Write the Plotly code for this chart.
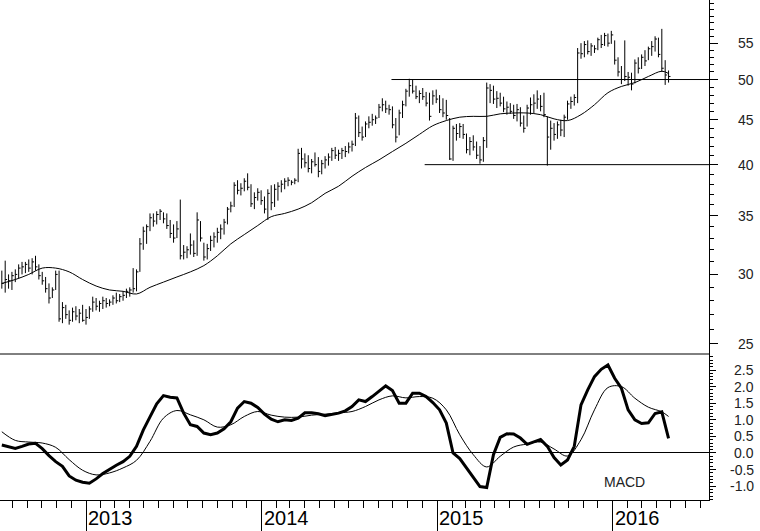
import math
import pandas as pd
import plotly.graph_objects as go

# ---------------- data ----------------
start_date = "2012-07-10"          # first weekly bar

high = [30.3, 31.1, 30.0, 30.2, 30.4, 30.8, 31.0, 31.0, 31.2, 31.3,
        31.5, 30.8, 30.2, 29.8, 29.3, 29.0, 30.3, 30.3, 27.9, 27.7,
        27.3, 27.5, 27.6, 27.4, 27.7, 27.4, 27.6, 28.3, 28.2, 28.0,
        28.3, 28.2, 28.1, 28.4, 28.6, 28.5, 28.7, 28.9, 29.0, 30.5,
        30.4, 33.0, 34.0, 34.2, 35.2, 35.2, 35.4, 35.6, 35.3, 35.2,
        34.6, 34.2, 34.5, 36.5, 32.4, 32.3, 33.4, 32.8, 35.3, 34.5,
        32.6, 32.5, 33.2, 33.5, 33.9, 34.2, 34.7, 35.8, 36.3, 38.2,
        38.4, 38.1, 38.6, 39.1, 38.0, 37.2, 37.6, 37.4, 36.8, 37.5,
        37.9, 38.0, 38.2, 38.4, 38.6, 38.7, 38.4, 38.6, 41.7, 41.8,
        41.2, 41.0, 40.6, 41.3, 40.8, 40.5, 40.9, 41.2, 41.8, 41.9,
        41.6, 41.8, 42.0, 42.4, 42.6, 45.8, 45.5, 44.2, 44.8, 45.4,
        45.7, 45.5, 46.9, 47.6, 47.3, 46.8, 46.6, 45.2, 46.2, 47.3,
        48.8, 50.1, 50.0, 49.2, 48.6, 48.9, 48.4, 48.3, 48.6, 48.7,
        48.0, 47.6, 47.4, 45.2, 44.3, 44.5, 44.6, 44.5, 43.4, 43.0,
        43.2, 42.5, 42.0, 43.0, 49.6, 49.4, 49.2, 48.5, 48.3, 47.8,
        47.2, 47.0, 46.8, 46.9, 46.5, 45.5, 46.8, 47.7, 48.1, 48.6,
        48.0, 48.3, 45.4, 44.9, 44.6, 44.8, 45.0, 45.6, 47.3, 47.8,
        48.1, 54.3, 55.0, 55.3, 55.4, 55.0, 54.7, 55.8, 56.2, 56.5,
        56.4, 56.8, 55.4, 53.0, 51.8, 55.4, 51.0, 50.9, 52.7, 53.0,
        53.4, 54.0, 54.5, 55.3, 56.0, 55.8, 57.1, 52.6, 51.2]

low = [28.9, 28.6, 28.9, 28.8, 29.4, 29.7, 30.0, 30.1, 30.2, 30.0,
       30.3, 29.6, 29.2, 28.6, 27.8, 28.2, 28.8, 26.5, 26.4, 26.7,
       26.3, 26.5, 26.6, 26.4, 26.5, 26.3, 26.7, 27.2, 27.3, 27.2,
       27.4, 27.5, 27.6, 27.7, 27.8, 27.9, 28.0, 28.2, 28.3, 28.6,
       28.7, 30.2, 32.0, 32.5, 33.6, 34.0, 34.2, 34.6, 34.3, 33.8,
       33.0, 32.6, 33.0, 31.2, 31.2, 31.3, 31.6, 31.4, 31.5, 32.7,
       31.1, 31.2, 31.9, 32.2, 32.6, 32.9, 33.3, 34.2, 35.3, 35.8,
       37.0, 36.9, 37.3, 37.4, 35.8, 35.6, 36.4, 36.0, 35.2, 34.6,
       35.5, 35.8, 36.4, 37.2, 37.5, 37.8, 37.9, 38.0, 38.2, 39.6,
       39.7, 39.2, 39.1, 39.8, 38.7, 39.0, 39.6, 39.9, 40.4, 40.6,
       40.4, 40.6, 40.8, 41.2, 41.4, 42.0, 43.0, 42.6, 43.0, 44.0,
       44.3, 44.5, 45.2, 46.0, 45.8, 45.6, 44.0, 42.4, 43.2, 45.2,
       46.6, 47.8, 48.2, 47.5, 47.0, 47.4, 46.6, 44.9, 46.8, 47.0,
       45.8, 45.3, 45.0, 40.5, 40.4, 42.6, 42.9, 42.8, 41.2, 41.0,
       41.5, 40.6, 40.1, 40.3, 41.8, 47.0, 46.9, 46.4, 46.6, 45.9,
       45.6, 45.7, 45.1, 44.8, 44.2, 43.5, 44.2, 45.6, 45.8, 46.3,
       46.0, 45.3, 39.9, 41.6, 42.6, 42.8, 43.1, 43.0, 45.0, 46.3,
       46.7, 47.0, 52.8, 53.0, 53.4, 53.2, 53.6, 54.0, 54.3, 54.6,
       54.5, 54.9, 52.0, 50.4, 49.4, 49.8, 49.2, 48.6, 49.5, 50.8,
       51.4, 51.8, 52.6, 53.2, 53.8, 53.0, 51.0, 49.3, 49.6]

close = [29.3, 29.6, 29.5, 29.9, 30.0, 30.5, 30.6, 30.8, 30.5, 31.0,
         30.6, 29.9, 29.5, 28.9, 28.2, 28.8, 30.0, 26.7, 27.5, 27.0,
         26.6, 27.2, 26.9, 27.1, 26.6, 26.8, 27.4, 27.9, 27.6, 27.8,
         28.0, 27.8, 27.9, 28.2, 28.0, 28.3, 28.4, 28.7, 28.8, 28.9,
         30.2, 32.5, 33.6, 34.0, 34.8, 34.5, 35.1, 35.4, 34.7, 34.1,
         33.4, 33.0, 33.8, 31.5, 31.8, 32.0, 32.4, 31.7, 34.6, 33.0,
         31.4, 32.1, 32.8, 33.1, 33.5, 33.8, 34.4, 35.6, 35.9, 37.9,
         37.4, 37.6, 38.3, 37.7, 36.1, 36.7, 37.2, 36.4, 35.6, 37.1,
         36.2, 37.5, 37.8, 38.0, 38.3, 38.4, 38.2, 38.4, 41.2, 40.6,
         40.2, 39.6, 40.3, 40.0, 39.3, 40.1, 40.5, 40.8, 41.5, 41.0,
         41.2, 41.5, 41.4, 41.9, 42.2, 45.2, 43.5, 43.0, 44.5, 44.7,
         45.0, 45.2, 46.5, 46.8, 46.3, 46.2, 44.4, 43.0, 45.8, 46.8,
         48.5, 49.2, 48.5, 47.8, 48.2, 47.8, 47.0, 45.4, 47.9, 47.5,
         46.2, 45.8, 45.5, 40.6, 44.0, 43.4, 44.2, 43.3, 41.6, 42.5,
         41.9, 41.0, 40.5, 42.6, 48.9, 48.6, 47.5, 47.6, 47.0, 46.3,
         46.5, 46.0, 45.5, 46.2, 44.6, 44.0, 46.4, 46.8, 47.0, 47.5,
         46.6, 45.6, 43.0, 44.0, 43.3, 44.4, 43.8, 45.3, 46.9, 47.2,
         47.7, 53.6, 53.5, 54.8, 53.8, 54.6, 54.2, 55.5, 54.8, 56.1,
         55.0, 56.2, 52.6, 51.0, 50.0, 50.4, 50.3, 49.4, 52.2, 51.5,
         53.0, 52.5, 54.2, 54.5, 55.6, 53.4, 51.5, 50.6, 50.4]

# moving average, read every 4th week (plus last week)
ma_weeks = list(range(0, 197, 4)) + [198]
moving_avg = [29.3, 29.6, 30.0, 30.5, 30.5, 30.2, 29.6, 29.1, 28.8, 28.7,
              28.5, 29.0, 29.4, 29.8, 30.2, 30.7, 31.5, 32.5, 33.3, 34.1,
              34.9, 35.2, 35.6, 36.2, 37.1, 37.8, 38.8, 39.7, 40.5, 41.4,
              42.3, 43.3, 44.3, 44.9, 45.3, 45.4, 45.4, 45.7, 45.8, 45.8,
              45.6, 45.1, 44.9, 45.6, 46.8, 48.3, 49.1, 49.6, 50.4, 51.1,
              50.8]

# MACD (thick), read every 2nd week
macd_weeks = list(range(0, 199, 2))
macd = [0.24, 0.18, 0.14, 0.20, 0.27, 0.29, 0.13, -0.08, -0.26, -0.40,
        -0.69, -0.82, -0.88, -0.91, -0.78, -0.62, -0.49, -0.37, -0.26, -0.10,
        0.20, 0.69, 1.09, 1.48, 1.73, 1.68, 1.66, 1.20, 0.85, 0.80,
        0.60, 0.55, 0.60, 0.73, 0.94, 1.35, 1.55, 1.50, 1.37, 1.17,
        1.02, 0.94, 1.00, 0.98, 1.05, 1.21, 1.21, 1.18, 1.12, 1.15,
        1.20, 1.27, 1.40, 1.60, 1.55, 1.70, 1.85, 2.02, 1.88, 1.50,
        1.50, 1.80, 1.80, 1.70, 1.52, 1.30, 0.90, 0.00, -0.17, -0.45,
        -0.75, -1.01, -1.04, -0.05, 0.47, 0.58, 0.57, 0.45, 0.26, 0.34,
        0.41, 0.20, -0.14, -0.36, -0.21, 0.20, 1.45, 1.90, 2.30, 2.52,
        2.65, 2.25, 1.95, 1.30, 1.00, 0.89, 0.91, 1.19, 1.24, 0.44]

# signal line (thin), read every 4th week (plus last week)
signal_weeks = list(range(0, 197, 4)) + [198]
signal = [0.64, 0.38, 0.33, 0.30, 0.17, -0.20, -0.52, -0.66, -0.60, -0.45,
          -0.22, 0.35, 1.05, 1.28, 1.15, 1.00, 0.78, 0.85, 1.10, 1.25,
          1.14, 1.08, 1.08, 1.14, 1.17, 1.21, 1.25, 1.40, 1.60, 1.72,
          1.66, 1.70, 1.65, 1.30, 0.55, -0.05, -0.42, -0.10, 0.18, 0.27,
          0.33, 0.12, -0.09, 0.40, 1.30, 1.97, 2.00, 1.65, 1.38, 1.24,
          1.10]

price_ticks = [25, 30, 35, 40, 45, 50, 55]
price_minor = [v for v in range(25, 62) if v not in price_ticks]
macd_ticks = [-1.0, -0.5, 0.0, 0.5, 1.0, 1.5, 2.0, 2.5]
years = [2013, 2014, 2015, 2016]
levels = [50, 40]
level_starts = ["2014-09-28", "2014-12-06"]

# ---------------- figure ----------------
x_range = ["2012-07-06 05:00", "2016-07-19 02:00"]
dates = pd.date_range(start_date, periods=len(close), freq="7D")

bx, by = [], []
tick = pd.Timedelta(days=4)
for d, h, l, c in zip(dates, high, low, close):
    bx += [d, d, None, d, d + tick, None]
    by += [l, h, None, c, c, None]

fig = go.Figure()
fig.add_trace(go.Scatter(x=bx, y=by, mode="lines", yaxis="y2",
                         line=dict(color="black", width=1), hoverinfo="skip"))
fig.add_trace(go.Scatter(x=dates[ma_weeks], y=moving_avg, mode="lines", yaxis="y2",
                         line=dict(color="black", width=1, shape="spline")))
for lv, s in zip(levels, level_starts):
    fig.add_trace(go.Scatter(x=[s, x_range[1]], y=[lv, lv], mode="lines", yaxis="y2",
                             line=dict(color="black", width=1)))
fig.add_trace(go.Scatter(x=dates[signal_weeks], y=signal, mode="lines", yaxis="y",
                         line=dict(color="black", width=1, shape="spline")))
fig.add_trace(go.Scatter(x=dates[macd_weeks], y=macd, mode="lines", yaxis="y",
                         line=dict(color="black", width=3)))

split = 146 / 500
font = "Liberation Sans, Arial, sans-serif"
annotations = []
lab_x = 756 / 709
for v in price_ticks:
    annotations.append(dict(x=lab_x, xref="paper", y=math.log10(v), yref="y2",
                            text=str(v), showarrow=False, xanchor="right", yanchor="middle",
                            font=dict(family=font, size=14, color="#222")))
for v in macd_ticks:
    annotations.append(dict(x=lab_x, xref="paper", y=v, yref="y",
                            text=f"{v:.1f}", showarrow=False, xanchor="right", yanchor="middle",
                            font=dict(family=font, size=14, color="#222")))
for yr in years:
    annotations.append(dict(x=f"{yr}-01-01", xref="x", y=-0.036, yref="paper",
                            text=str(yr), showarrow=False, xanchor="left", yanchor="middle",
                            xshift=0, font=dict(family=font, size=20, color="black")))
annotations.append(dict(x=624 / 709, xref="paper", y=0.036, yref="paper", text="MACD",
                        showarrow=False, xanchor="center", yanchor="middle",
                        font=dict(family=font, size=14, color="#222")))

fig.update_layout(
    width=760, height=531,
    margin=dict(l=0, r=51, t=0, b=31),
    paper_bgcolor="white", plot_bgcolor="white",
    showlegend=False,
    xaxis=dict(type="date", range=x_range, anchor="y",
               showline=True, linecolor="black", linewidth=1,
               showgrid=False, zeroline=False,
               tickmode="array", tickvals=[f"{y}-01-01" for y in years],
               ticks="outside", ticklen=31, tickwidth=1, tickcolor="black",
               showticklabels=False,
               minor=dict(ticks="outside", ticklen=7, tickwidth=1, tickcolor="black",
                          dtick="M1", tick0="2013-01-01", showgrid=False)),
    yaxis=dict(domain=[0, split], range=[-1.416, 2.982], side="right", anchor="x",
               showline=True, linecolor="black", linewidth=1, showgrid=False,
               zeroline=True, zerolinecolor="black", zerolinewidth=1,
               tickmode="array", tickvals=macd_ticks, showticklabels=False,
               ticks="outside", ticklen=6, tickcolor="black",
               minor=dict(ticks="outside", ticklen=3, tickcolor="black",
                          dtick=0.1, tick0=0, showgrid=False)),
    yaxis2=dict(domain=[split, 1], type="log", range=[1.38652, 1.78949], side="right",
                anchor="x", showline=True, linecolor="black", linewidth=1,
                showgrid=False, zeroline=False,
                tickmode="array", tickvals=price_ticks, showticklabels=False,
                ticks="outside", ticklen=8, tickcolor="black",
                minor=dict(ticks="outside", ticklen=4, tickcolor="black",
                           tickvals=price_minor, showgrid=False)),
    shapes=[dict(type="line", xref="paper", yref="paper", x0=0, x1=1, y0=split, y1=split,
                 line=dict(color="black", width=1))],
    annotations=annotations,
)

# the page's default 8px body margin would shift the chart; remove it
fig.write_html("out.html",
               config={"displayModeBar": False},
               post_script="document.body.style.margin='0';document.body.style.overflow='hidden';")
